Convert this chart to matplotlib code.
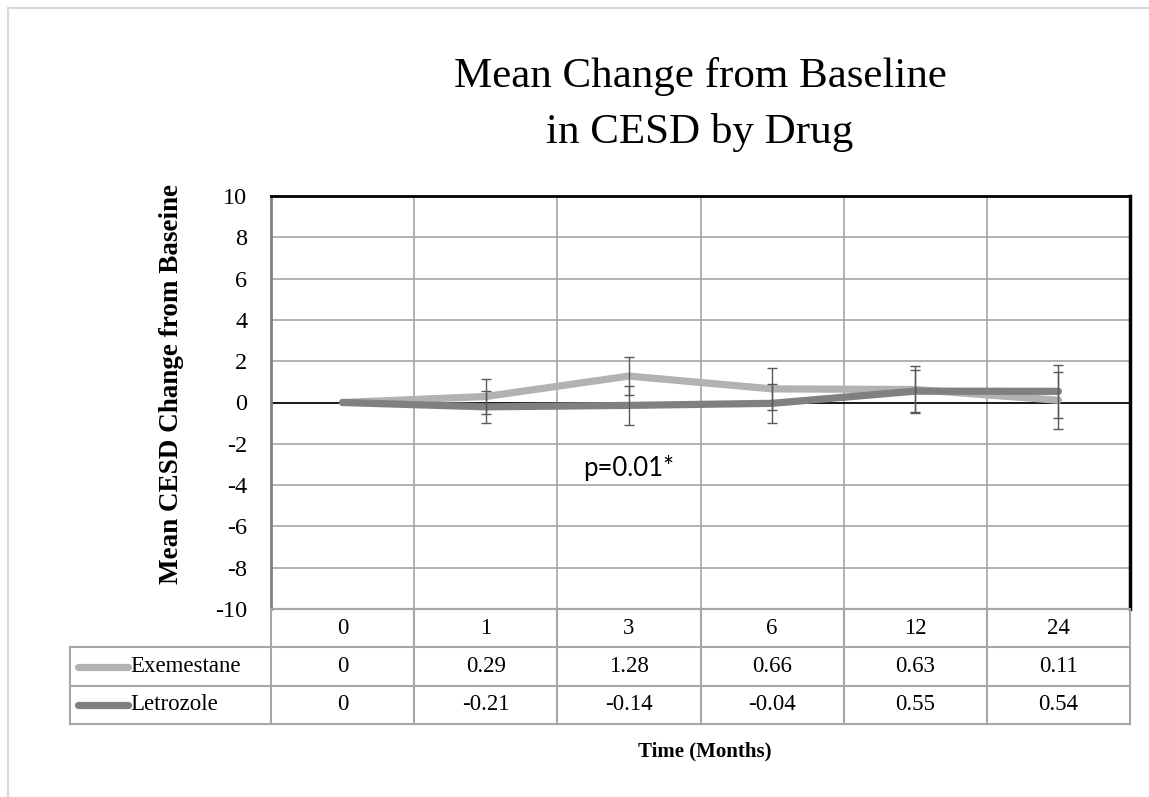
import numpy as np
import matplotlib
matplotlib.use("Agg")
from matplotlib import pyplot as plt
from matplotlib.patches import Rectangle

# data
months = ["0", "1", "3", "6", "12", "24"]
exemestane = [0, 0.29, 1.28, 0.66, 0.63, 0.11]
letrozole = [0, -0.21, -0.14, -0.04, 0.55, 0.54]
exe_err = [0, 0.85, 0.93, 1.0, 1.13, 1.38]
let_err = [0, 0.79, 0.95, 0.95, 1.0, 1.27]
yticks = [-10, -8, -6, -4, -2, 0, 2, 4, 6, 8, 10]

c_exe = "#b2b2b2"
c_let = "#808080"
c_grid = "#a6a6a6"
serif = "Liberation Serif"

W, H = 1149, 797
fig = plt.figure(figsize=(W/100, H/100), dpi=100)

def fx(px):
    return px/W
def fy(py):
    return 1 - py/H

# outer chart border
fig.patches.append(Rectangle((fx(8), -0.1), 1.2, fy(8)+0.1, transform=fig.transFigure,
                             fill=False, edgecolor="#d9d9d9", lw=1.5))

L, R, T, B = 271, 1130, 196, 609
ax = fig.add_axes([fx(L), fy(B), fx(R-L), (B-T)/H])
x = np.arange(len(months))
ax.set_xlim(-0.5, len(months)-0.5)
ax.set_ylim(-10, 10)
ax.set_yticks(yticks)
ax.set_yticklabels([str(v) for v in yticks], fontsize=17.5, family=serif)
ax.tick_params(axis="y", length=0, pad=17)
ax.set_xticks([])
for v in yticks:
    ax.axhline(v, color=c_grid, lw=1.2, zorder=0)
for i in range(1, len(months)):
    ax.axvline(i-0.5, color=c_grid, lw=1.2, zorder=0)
ax.axhline(0, color="black", lw=1.2, zorder=1)
ax.spines["top"].set_color("black")
ax.spines["top"].set_linewidth(2)
ax.spines["right"].set_color("black")
ax.spines["right"].set_linewidth(2.5)
ax.spines["left"].set_color("#808080")
ax.spines["left"].set_linewidth(2)
ax.spines["bottom"].set_color("#808080")
ax.spines["bottom"].set_linewidth(1.5)

ax.plot(x, exemestane, color=c_exe, lw=5.2, solid_capstyle="round", solid_joinstyle="round", zorder=3)
ax.plot(x, letrozole, color=c_let, lw=5.2, solid_capstyle="round", solid_joinstyle="round", zorder=4)
ax.errorbar(x[1:], exemestane[1:], yerr=exe_err[1:], fmt="none", ecolor="#595959",
            elinewidth=1, capsize=3.6, capthick=1, zorder=5)
ax.errorbar(x[1:], letrozole[1:], yerr=let_err[1:], fmt="none", ecolor="#595959",
            elinewidth=1, capsize=3.6, capthick=1, zorder=5)

ax.text(2.0, -3.15, "p=0.01*", fontsize=18.5, family="Lato", ha="center", va="center")
ax.set_ylabel("Mean CESD Change from Baseine", fontsize=19.5, family=serif, fontweight="bold")
ax.yaxis.set_label_coords((184-L)/(R-L), (B-384)/(B-T))

fig.text(fx(700), fy(77), "Mean Change from Baseline", fontsize=31, family=serif, ha="center", va="center")
fig.text(fx(700), fy(132), "in CESD by Drug", fontsize=31, family=serif, ha="center", va="center")

# data table under the plot
TL, TB = 70, 724
unit = (R-L)/len(months)
tax = fig.add_axes([fx(TL), fy(TB), fx(R-TL), (TB-B)/H])
tax.set_xlim(-0.5 - (L-TL)/unit, len(months)-0.5)
tax.set_ylim(3, 0)
tax.axis("off")
x0 = -0.5 - (L-TL)/unit
tc = "#a6a6a6"
# horizontal borders
tax.plot([-0.5, len(months)-0.5], [0, 0], color=tc, lw=1.5, clip_on=False)
for r in [1, 2, 3]:
    tax.plot([x0, len(months)-0.5], [r, r], color=tc, lw=1.5, clip_on=False)
# vertical borders
tax.plot([x0, x0], [1, 3], color=tc, lw=1.5, clip_on=False)
for i in range(len(months)+1):
    tax.plot([i-0.5, i-0.5], [0, 3], color=tc, lw=1.5, clip_on=False)
for i, m in enumerate(months):
    tax.text(i, 0.5, m, fontsize=16.5, family=serif, ha="center", va="center")
    tax.text(i, 1.5, "{:g}".format(exemestane[i]), fontsize=16.5, family=serif, ha="center", va="center")
    tax.text(i, 2.5, "{:g}".format(letrozole[i]), fontsize=16.5, family=serif, ha="center", va="center")
for r, name, col in [(1.5, "Exemestane", c_exe), (2.5, "Letrozole", c_let)]:
    tax.plot([x0 + 8/unit, x0 + 58/unit], [r, r], color=col, lw=5.2, solid_capstyle="round")
    tax.text(x0 + 60/unit, r, name, fontsize=16.5, family=serif, ha="left", va="center")

fig.text(fx(705), fy(751), "Time (Months)", fontsize=15, family=serif, fontweight="bold",
         ha="center", va="center")

plt.savefig("out.png", dpi=100)
